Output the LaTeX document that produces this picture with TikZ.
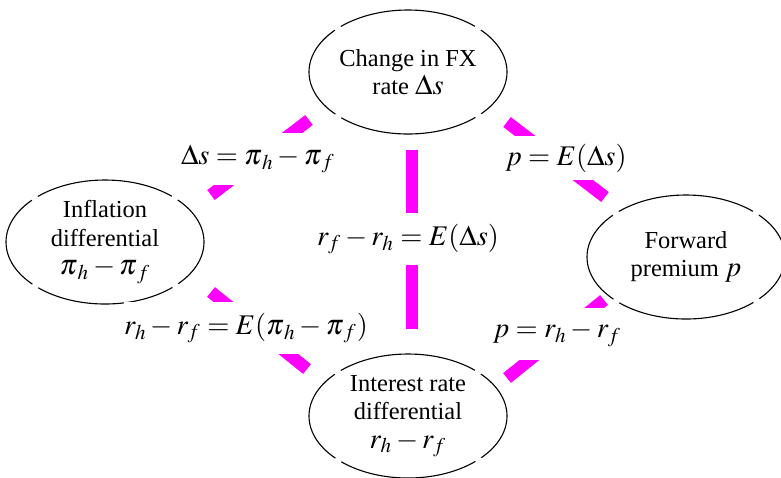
\documentclass[tikz,border=0pt]{standalone}
\usepackage{mathptmx}
\usepackage[no-math]{fontspec}
\setmainfont{Liberation Serif}
\usetikzlibrary{shapes.geometric}
\definecolor{fxmagenta}{RGB}{255,0,255}
\newcommand\eqfont{\fontsize{12.8}{14}\selectfont}

\begin{document}
\begin{tikzpicture}[x=.45pt,y=-.45pt,font=\fontsize{11}{12.8}\selectfont,
    bubble/.style={ellipse,draw,line width=.5pt,inner sep=0pt,minimum width=89.1pt,minimum height=55.8pt,align=center,
      dash pattern=on 46.3pt off 3.15pt on 62.8pt off 3.15pt,dash phase=23.1pt},
    link/.style={fxmagenta,line width=5.6pt},
    rel/.style={fill=white,inner xsep=1pt,inner sep=0pt,minimum height=23.4pt,font=\eqfont}]
    \useasboundingbox (0,0) rectangle (781,477);
    % the four quantities
    \node[bubble] (fx) at (408,72) {Change in FX\\rate {\eqfont$\Delta s$}};
    \node[bubble] (infl) at (105,242) {Inflation\\differential\\{\eqfont$\pi_{\mkern2mu h}-\pi_{\mkern2mu f}$}};
    \node[bubble] (fwd) at (686,257) {Forward\\premium {\eqfont$p$}};
    \node[bubble] (irate) at (408,416) {Interest rate\\differential\\{\eqfont$r_h-r_f$}};
    % ends of the parity links
    \coordinate (tl-a) at (309,120); \coordinate (tl-b) at (211,195);
    \coordinate (tr-a) at (507,122); \coordinate (tr-b) at (605,197);
    \coordinate (bl-a) at (211,292); \coordinate (bl-b) at (307,369);
    \coordinate (br-a) at (604,300); \coordinate (br-b) at (507,378);
    \coordinate (md-a) at (412,150); \coordinate (md-b) at (412,329);
    \draw[link] (tl-a)--(tl-b);
    \draw[link] (tr-a)--(tr-b);
    \draw[link] (bl-a)--(bl-b);
    \draw[link] (br-a)--(br-b);
    \draw[link] (md-a)--(md-b);
    % relations on top of the links
    \node[rel] (ppp) at (258,159) {$\Delta s=\pi_{\mkern2mu h}-\pi_{\mkern2mu f}$};
    \node[rel,minimum height=19.4pt] (ufr) at (566,158) {$p=E(\Delta s)$};
    \node[rel] (ife) at (408,239) {$r_f-r_h=E(\Delta s)$};
    \node[rel] (fisher) at (246,328) {$r_h-r_f=E(\pi_{\mkern2mu h}-\pi_{\mkern2mu f})$};
    \node[rel] (irp) at (557,334) {$p=r_h-r_f$};
\end{tikzpicture}
\end{document}
